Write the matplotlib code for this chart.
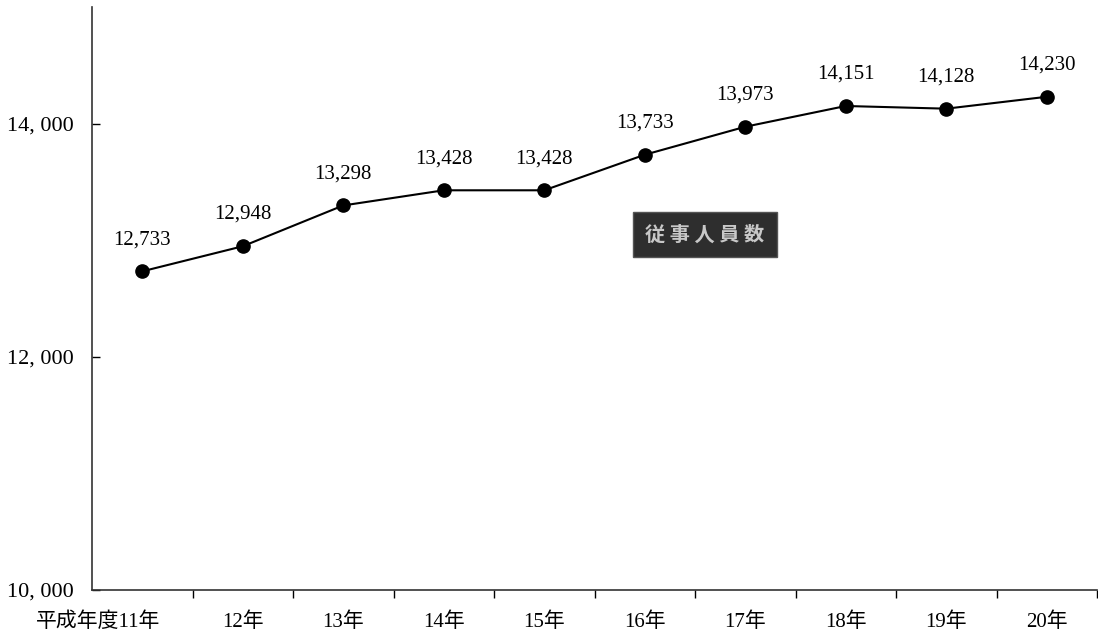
import matplotlib
matplotlib.use("Agg")
import matplotlib.pyplot as plt
from matplotlib.transforms import ScaledTranslation

categories = ["平成年度11年", "12年", "13年", "14年", "15年", "16年", "17年", "18年", "19年", "20年"]
values = [12733, 12948, 13298, 13428, 13428, 13733, 13973, 14151, 14128, 14230]
value_labels = ["12,733", "12,948", "13,298", "13,428", "13,428", "13,733", "13,973", "14,151", "14,128", "14,230"]
yticks = [10000, 12000, 14000]
ytick_labels = ["10, 000", "12, 000", "14, 000"]
series_name = "従 事 人 員 数"

fam = ["Liberation Serif", "Noto Sans CJK JP"]
plt.rcParams["font.family"] = fam

fig = plt.figure(figsize=(10.98, 6.34), dpi=100)
ax = fig.add_axes([92/1098, 1-590/634, 1005/1098, 583/634])

x = list(range(len(categories)))
ax.plot(x, values, color="black", lw=1.5, marker="o", markersize=9.5, zorder=3)
for xi, v, lab in zip(x, values, value_labels):
    ax.annotate(lab, (xi, v), xytext=(0, 16), textcoords="offset points",
                ha="center", va="bottom", fontsize=15, color="black")

ax.set_xlim(-0.5, len(categories) - 0.5)
ax.set_ylim(10000, 15000)
ax.set_xticks(x)
ax.set_xticklabels(categories, fontsize=15)
ax.tick_params(axis="x", which="major", length=0, pad=16)
ax.set_xticks([i + 0.5 for i in x], minor=True)
ax.tick_params(axis="x", which="minor", length=6, direction="out", width=1)
labels = ax.get_xticklabels()
labels[0].set_horizontalalignment("right")
labels[0].set_transform(labels[0].get_transform() + ScaledTranslation(0.18, 0, fig.dpi_scale_trans))

ax.set_yticks(yticks)
ax.set_yticklabels(ytick_labels, fontsize=16)
ax.tick_params(axis="y", length=6, direction="in", pad=13, width=1)

for s in ["top", "right"]:
    ax.spines[s].set_visible(False)
for s in ["left", "bottom"]:
    ax.spines[s].set_color("#333333")
    ax.spines[s].set_linewidth(1.2)

ax.text(5.6, 13050, series_name, ha="center", va="center", fontsize=14.5,
        fontweight="bold", color="#c8c8c8", family=["Noto Sans CJK JP"],
        bbox=dict(boxstyle="square,pad=0.6", facecolor="#2e2e2e", edgecolor="#555555"))

fig.savefig("out.png", dpi=100)
